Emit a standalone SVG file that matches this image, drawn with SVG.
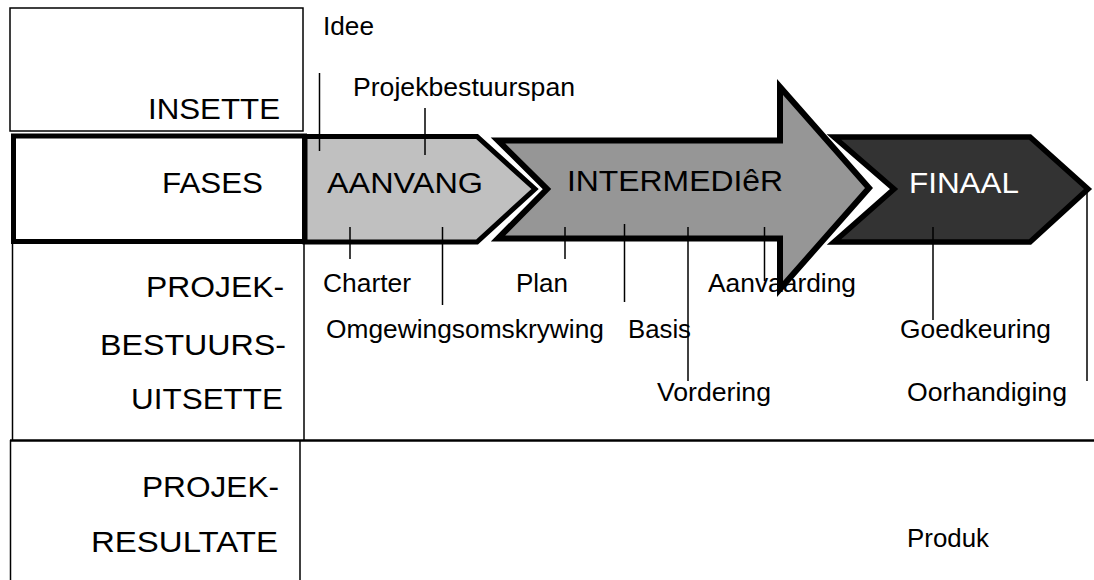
<svg xmlns="http://www.w3.org/2000/svg" width="1094" height="580" viewBox="0 0 1094 580">
<style>
.bg{fill:#ffffff}
.thin{fill:none;stroke:#000;stroke-width:1.5}
.thick{fill:none;stroke:#000;stroke-width:5}
.rowlbl{font-family:"Liberation Sans",Arial,sans-serif;font-size:29px;fill:#000}
.lbl{font-family:"Liberation Sans",Arial,sans-serif;font-size:25px;fill:#000}
.phase{font-family:"Liberation Sans",Arial,sans-serif;font-size:29px}
.arrow{stroke:#000;stroke-linejoin:miter;stroke-miterlimit:10}
.tick{stroke:#000;stroke-width:1.5;fill:none}
</style>
<rect class="bg" x="0" y="0" width="1094" height="580"/>

<g id="row-insette">
<rect class="thin" x="10" y="8" width="293" height="123"/>
<text class="rowlbl" x="148" y="119" textLength="132" lengthAdjust="spacingAndGlyphs">INSETTE</text>
</g>

<g id="row-fases">
<rect class="thick" x="13.5" y="136" width="291" height="105.5"/>
<text class="rowlbl" x="162" y="193" textLength="101" lengthAdjust="spacingAndGlyphs">FASES</text>
</g>

<g id="row-uitsette">
<line class="thin" x1="12.5" y1="243" x2="12.5" y2="440"/>
<line class="thin" x1="304" y1="243" x2="304" y2="440"/>
<text class="rowlbl" x="146" y="297" textLength="138" lengthAdjust="spacingAndGlyphs">PROJEK-</text>
<text class="rowlbl" x="100" y="355" textLength="186" lengthAdjust="spacingAndGlyphs">BESTUURS-</text>
<text class="rowlbl" x="131" y="409" textLength="152" lengthAdjust="spacingAndGlyphs">UITSETTE</text>
</g>

<g id="row-resultate">
<line x1="10" y1="440.5" x2="1094" y2="440.5" stroke="#000" stroke-width="2.5"/>
<line class="thin" x1="10.5" y1="440" x2="10.5" y2="580"/>
<line class="thin" x1="300" y1="440" x2="300" y2="580"/>
<text class="rowlbl" x="142" y="497" textLength="137" lengthAdjust="spacingAndGlyphs">PROJEK-</text>
<text class="rowlbl" x="91" y="552" textLength="187" lengthAdjust="spacingAndGlyphs">RESULTATE</text>
</g>

<g id="milestones">
<text id="m-idee" class="lbl" x="323" y="35" textLength="51" lengthAdjust="spacingAndGlyphs">Idee</text>
<text id="m-span" class="lbl" x="353" y="96" textLength="222" lengthAdjust="spacingAndGlyphs">Projekbestuurspan</text>
<text id="m-charter" class="lbl" x="323" y="292" textLength="88" lengthAdjust="spacingAndGlyphs">Charter</text>
<text id="m-plan" class="lbl" x="516" y="292" textLength="52" lengthAdjust="spacingAndGlyphs">Plan</text>
<text id="m-aanvaarding" class="lbl" x="708" y="292" textLength="148" lengthAdjust="spacingAndGlyphs">Aanvaarding</text>
<text id="m-omgewing" class="lbl" x="326" y="338" textLength="278" lengthAdjust="spacingAndGlyphs">Omgewingsomskrywing</text>
<text id="m-basis" class="lbl" x="628" y="338" textLength="63" lengthAdjust="spacingAndGlyphs">Basis</text>
<text id="m-goedkeuring" class="lbl" x="900" y="338" textLength="151" lengthAdjust="spacingAndGlyphs">Goedkeuring</text>
<text id="m-vordering" class="lbl" x="657" y="401" textLength="114" lengthAdjust="spacingAndGlyphs">Vordering</text>
<text id="m-oorhandiging" class="lbl" x="907" y="401" textLength="160" lengthAdjust="spacingAndGlyphs">Oorhandiging</text>
<text id="m-produk" class="lbl" x="907" y="547" textLength="82" lengthAdjust="spacingAndGlyphs">Produk</text>
</g>

<g id="phase-aanvang">
<path class="arrow" d="M305,136.5 L477,136.5 L535,189 L477,242 L305,242 Z" fill="#c0c0c0" stroke-width="5"/>
<text class="phase" x="327" y="193" fill="#000" textLength="156" lengthAdjust="spacingAndGlyphs">AANVANG</text>
</g>

<g id="phase-intermedier">
<path class="arrow" d="M498,140.5 L780,140.5 L780,87 L869,188 L780,289 L780,238.5 L498,238.5 L547,189 Z" fill="#969696" stroke-width="6"/>
<text class="phase" x="567" y="191" fill="#000" textLength="216" lengthAdjust="spacingAndGlyphs">INTERMEDIêR</text>
</g>

<g id="phase-finaal">
<path class="arrow" d="M834,137 L1030,137 L1088,189 L1030,242 L834,242 L894,189 Z" fill="#333333" stroke-width="5.5"/>
<text class="phase" x="909" y="193" fill="#ffffff" textLength="110" lengthAdjust="spacingAndGlyphs">FINAAL</text>
</g>

<g id="connectors">
<line class="tick" x1="319.5" y1="73" x2="319.5" y2="151"/>
<line class="tick" x1="425" y1="108" x2="425" y2="155"/>
<line class="tick" x1="350" y1="227" x2="350" y2="259"/>
<line class="tick" x1="442.5" y1="227" x2="442.5" y2="305"/>
<line class="tick" x1="565" y1="227" x2="565" y2="259"/>
<line class="tick" x1="624.5" y1="224" x2="624.5" y2="302"/>
<line class="tick" x1="688" y1="227" x2="688" y2="381"/>
<line class="tick" x1="764.5" y1="227" x2="764.5" y2="281"/>
<line class="tick" x1="933" y1="227" x2="933" y2="320"/>
<line class="tick" x1="1087" y1="192" x2="1087" y2="381"/>
</g>
</svg>
